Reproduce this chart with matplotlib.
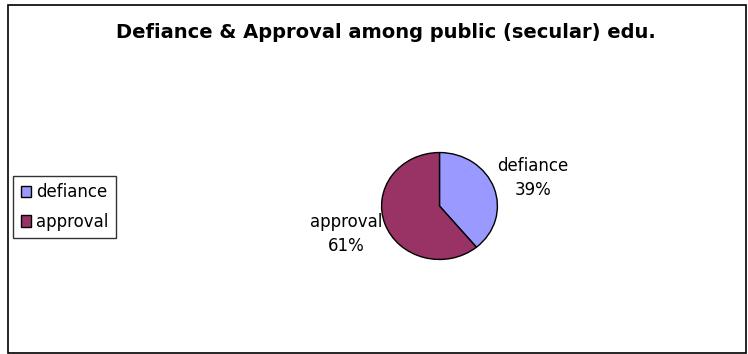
import matplotlib
matplotlib.use("Agg")
import matplotlib.pyplot as plt
from matplotlib.patches import Rectangle
import numpy as np

plt.rcParams['font.family'] = ['DejaVu Sans']

title = "Defiance & Approval among public (secular) edu."
categories = ["defiance", "approval"]
values = [39, 61]
colors = ["#9999FF", "#993366"]

fig = plt.figure(figsize=(7.48, 3.54), dpi=100)

# outer chart border
fig.patches.append(Rectangle((8/748, 1/354), 738/748, 348/354, transform=fig.transFigure,
                             fill=False, edgecolor="black", linewidth=1.2))

fig.text(386/748, 1 - 33/354, title, ha="center", va="center",
         fontsize=14, fontweight="bold")

ax = fig.add_axes([381/748, (354-260)/354, 117/748, 108/354])
wedges, _ = ax.pie(values, colors=colors, startangle=90, counterclock=False,
                   wedgeprops=dict(edgecolor="black", linewidth=1.0), radius=1.0)
ax.set_aspect("auto")
ax.set_xlim(-1.01, 1.01)
ax.set_ylim(-1.01, 1.01)
ax.axis("off")

total = sum(values)
for w, cat, v in zip(wedges, categories, values):
    ang = np.deg2rad((w.theta1 + w.theta2) / 2)
    r = 1.72
    ax.text(r*np.cos(ang), r*np.sin(ang) * 0.9, f"{cat}\n{round(100*v/total)}%",
            ha="center", va="center", fontsize=12, linespacing=1.4)

leg = fig.legend(wedges, categories, loc="center left",
                 bbox_to_anchor=(13/748, 1 - 207/354), fontsize=12,
                 frameon=True, fancybox=False, edgecolor="black",
                 handlelength=0.65, handleheight=0.65, handletextpad=0.3,
                 borderpad=0.45, labelspacing=0.7, borderaxespad=0)
leg.get_frame().set_linewidth(1.0)
for h in leg.legend_handles:
    h.set_edgecolor("black")
    h.set_linewidth(1.0)

fig.savefig("out.png", dpi=100)
